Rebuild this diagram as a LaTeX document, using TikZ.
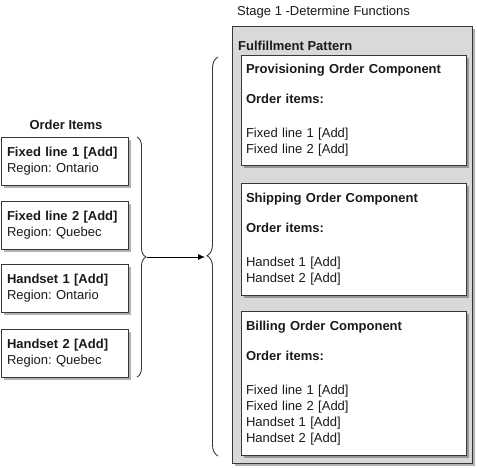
\documentclass[tikz,border=0pt]{standalone}
\usepackage{fontspec}
\setmainfont[Ligatures=NoCommon]{Liberation Sans}
\frenchspacing
\usetikzlibrary{shadows,decorations.pathreplacing,arrows.meta}
\definecolor{edge}{HTML}{383838}
\definecolor{panel}{HTML}{D9D9D9}
\definecolor{txt}{HTML}{1A1A1A}
\begin{document}
\begin{tikzpicture}[x=1pt,y=-1pt,
  font=\fontsize{13}{16}\selectfont, text=txt,
  shade/.style={drop shadow={shadow xshift=2.5pt,shadow yshift=-2.5pt,fill=black,opacity=0.3}},
  itembox/.style={draw=edge,line width=1pt,fill=white,shade,minimum width=127pt,minimum height=48pt,
     inner xsep=6pt,inner ysep=0pt,text width=115pt,align=left},
  compbox/.style={draw=edge,line width=1pt,fill=white,shade,minimum width=225pt,
     inner xsep=5pt,inner ysep=0pt,text width=215pt,align=left},
  panelbox/.style={draw=edge,line width=1pt,fill=panel,shade,minimum width=240pt,minimum height=437pt},
  bracestyle/.style={draw=edge,line width=0.9pt,decorate},
  label/.style={inner sep=0pt,anchor=west}
]
\useasboundingbox (0,0) rectangle (477,467);

% title
\node[label] (stage) at (237,12) {Stage 1 -Determine Functions};

% outer panel
\node[panelbox] (panel) at (352,244.5) {};
\node[label] (fp) at (238,46) {\textbf{Fulfillment Pattern}};

% components
\node[compbox,minimum height=110pt] (prov) at (353.5,110) {\textbf{Provisioning Order Component}\\[14pt]\textbf{Order items:}\\[18pt]Fixed line 1 [Add]\\Fixed line 2 [Add]};
\node[compbox,minimum height=112pt] (ship) at (353.5,239) {\textbf{Shipping Order Component}\\[14pt]\textbf{Order items:}\\[18pt]Handset 1 [Add]\\Handset 2 [Add]};
\node[compbox,minimum height=144pt] (bill) at (353.5,383) {\textbf{Billing Order Component}\\[14pt]\textbf{Order items:}\\[18pt]Fixed line 1 [Add]\\Fixed line 2 [Add]\\Handset 1 [Add]\\Handset 2 [Add]};

% order items
\node[inner sep=0pt] (oititle) at (66,125) {\textbf{Order Items}};
\node[itembox] (i1) at (64.5,161) {\textbf{Fixed line 1 [Add]}\\Region: Ontario};
\node[itembox] (i2) at (64.5,225) {\textbf{Fixed line 2 [Add]}\\Region: Quebec};
\node[itembox] (i3) at (64.5,288.5) {\textbf{Handset 1 [Add]}\\Region: Ontario};
\node[itembox] (i4) at (64.5,353) {\textbf{Handset 2 [Add]}\\Region: Quebec};

% braces
\coordinate (lbtop) at (137,137);
\coordinate (lbbot) at (137,377);
\coordinate (lbtip) at (147,257);
\draw[bracestyle,decoration={brace,amplitude=9pt,aspect=0.5}] (lbtop) -- (lbbot);
\coordinate (rbtop) at (218,57);
\coordinate (rbbot) at (218,456);
\coordinate (rbtip) at (205,257);
\draw[bracestyle,decoration={brace,amplitude=11pt,aspect=0.502}] (rbbot) -- (rbtop);

% arrow
\draw[draw=black,line width=0.9pt,-{Latex[length=7pt,width=6pt]}] (lbtip) -- (rbtip);
\end{tikzpicture}
\end{document}
